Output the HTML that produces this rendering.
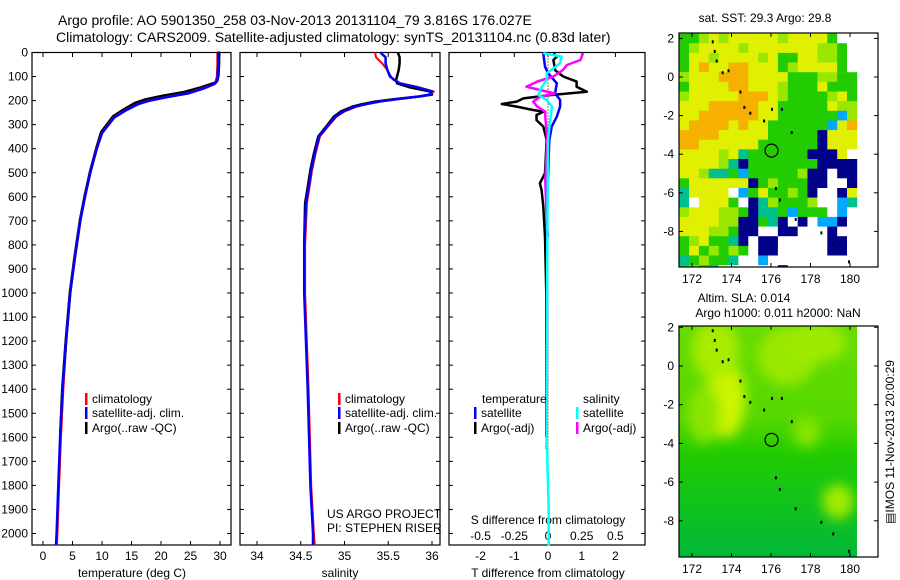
<!DOCTYPE html>
<html><head><meta charset="utf-8"><style>
html,body{margin:0;padding:0;background:#fff;}
svg{display:block;font-family:"Liberation Sans",sans-serif;}
text{font-size:12px;fill:#000;}
</style></head><body>
<svg id="c" width="900" height="580" viewBox="0 0 900 580">
<text x="58" y="25" style="font-size:14px">Argo profile: AO 5901350_258 03-Nov-2013 20131104_79 3.816S 176.027E</text>
<text x="56" y="42" style="font-size:14px">Climatology: CARS2009. Satellite-adjusted climatology: synTS_20131104.nc (0.83d later)</text>
<g id="g"></g>
</svg>
<script>
// ---------- data ----------
const depthTicks=[0,100,200,300,400,500,600,700,800,900,1000,1100,1200,1300,1400,1500,1600,1700,1800,1900,2000];
const tempTicks=[0,5,10,15,20,25,30];
const salTicks=[34,34.5,35,35.5,36];
const tdTicks=[-2,-1,0,1,2];
const sdTicks=[-0.5,-0.25,0,0.25,0.5];
const sdTickLabels=["-0.5","-0.25","0","0.25","0.5"];
const latTicks=[2,0,-2,-4,-6,-8];
const lonTicks=[172,174,176,178,180];

const tDepth=[0,50,100,120,130,150,170,185,200,215,240,270,335,400,500,600,700,850,1000,1200,1400,1600,1800,2000,2050];
const tClim=[29.6,29.6,29.5,29.3,29,27,24.5,21,18,16,14,12,10,9.1,8,7.1,6.3,5.4,4.6,3.9,3.4,3.0,2.7,2.4,2.3];
const tSat=[29.7,29.7,29.6,29.4,29.1,27.2,24.6,21.1,18.1,16.1,14.1,12.1,10,9.1,8,7.1,6.3,5.4,4.6,3.9,3.3,2.9,2.6,2.3,2.2];
const tArgo=[29.8,29.8,29.7,29.5,29.2,26.8,23.8,20.3,17.4,15.6,13.8,11.9,9.9,9.1,8,7.1,6.3,5.4,4.6,3.9,3.3,2.95];
const sDepth=[0,20,45,73,100,114,128,145,162,175,183,195,204,215,225,245,266,308,349,420,488,560,627,800,1000,1400,1800,2000,2050];
const sClim=[35.35,35.36,35.43,35.49,35.53,35.56,35.64,35.85,36.02,35.98,35.87,35.6,35.41,35.26,35.14,35.0,34.91,34.81,34.72,34.67,34.63,34.6,34.57,34.55,34.55,34.59,34.62,34.65,34.66];
const sSat=[35.41,35.47,35.47,35.49,35.52,35.57,35.63,35.84,36.0,35.97,35.85,35.58,35.39,35.24,35.12,34.99,34.9,34.8,34.71,34.66,34.62,34.59,34.56,34.54,34.54,34.58,34.61,34.64,34.64];
const sArgo=[35.61,35.63,35.63,35.62,35.6,35.59,35.6,35.75,35.98,36.0,35.85,35.55,35.35,35.2,35.09,34.96,34.88,34.79,34.7,34.65,34.61,34.58,34.55,34.54];
const dtDepth=[3,17,31,73,100,121,142,163,177,191,204,214,225,239,246,260,281,308,364,502,544,572,641,766,1000,1600];
const dtArgo=[0.16,0.26,0.16,0.21,0.45,0.85,0.85,1.15,0.06,-0.73,-0.93,-1.37,-0.93,-0.44,-0.14,-0.34,-0.34,-0.14,-0.04,-0.09,-0.24,-0.19,-0.14,-0.09,-0.05,-0.05];
const dtSatDepth=[3,59,87,128,170,197,225,267,308,364,600,1000,1650];
const dtSat=[-0.14,-0.09,0.01,0.26,0.21,0.36,0.36,0.26,0.11,0.04,-0.02,-0.03,-0.04];
const dsArgoDepth=[3,31,52,73,100,121,142,156,170,184,204,225,246,267,364,530,710,766];
const dsArgo=[0.26,0.24,0.14,0.11,0.04,-0.08,-0.16,-0.06,0.05,-0.06,-0.11,-0.08,-0.02,-0.02,-0.005,-0.02,-0.01,0.0];
const dsSatDepth=[3,17,45,87,114,156,177,197,225,267,364,800,1400,1600,1900,2050];
const dsSat=[-0.035,0.10,0.09,-0.01,-0.01,-0.06,-0.07,-0.01,0.03,0.02,0.0,-0.005,-0.01,-0.01,0.005,0.005];

const sstRows=[
"gglylyyyyylyyyygww","glyyyylyyyyyyyllgw","gyylyyyylyggyyllgw","gyoyyooyyyglyyyygw",
"lyyyoooyyyygggllgg","gyyyyooyyylgggyggg","lyyyyyoooylgggglyg","yyyoooooyygggggyll",
"yyooooooyyggggggsl","yooooyoyyggggggsyo","ooooyyyyygggggbyyy","ooyyyyyyggggggbyyy",
"yyyylycggggggbbbyw","yyyylcbgggggggbbbb","yylccgsggggglbbwbb","gyyyyyybglgggbbwwb",
"cyyyywsgygglgbwwby","cwyyygwbclggglwwsc","lyyyllgbccgsgggwsw","yyyyllbbgcbwbwssbw",
"yyyllgbbwwbbwwwbww","glyggcbwbbwwwwwbbw","gyglglgwbbwwwwwbbw","cglggcwwswwwwwwwww","glgcwwwwwwbwwwwwww"];
const slaPatches=[[173.7,-1.7,1.0,2.0,"#ccf400"],[173.2,0.8,1.2,1.5,"#a8ec00"],[176.8,0.5,1.5,1.5,"#98e800"],[178.3,1.2,1.5,1.0,"#a0ea00"],[177.8,-3.4,0.7,0.8,"#88e400"],[179.4,-7.0,0.8,0.9,"#a0ea00"],[172.6,-2.5,0.8,1.5,"#8ae400"]];
const argoLon=176.027, argoLat=-3.816;
const coast=[[173,1.9],[173.1,1.4],[173.2,0.9],[173.5,0.3],[173.8,0.4],[174.4,-0.7],[174.6,-1.5],[174.9,-1.8],[175.6,-2.2],[176.0,-1.6],[176.5,-1.6],[177.0,-2.8],[176.2,-5.7],[176.4,-6.3],[177.2,-7.3],[178.5,-8.0],[179.1,-8.6],[179.9,-9.5]];

// ---------- scales ----------
const y=d=>52.5+d*0.2405;
const tX=t=>43+t*5.9, sX=s=>257+(s-34)*87.5, tdX=v=>548+v*33.7, sdX=v=>548+v*134.8;
const lonX=l=>692+(l-172)*19.75, latY1=l=>77-l*19.3, latY2=l=>366-l*19.35;
const NS="http://www.w3.org/2000/svg", G=document.getElementById('g');
function el(tag,attrs,txt){const e=document.createElementNS(NS,tag);for(const k in attrs)e.setAttribute(k,attrs[k]);if(txt!==undefined)e.textContent=txt;G.appendChild(e);return e;}
function line(xs,ds,fx,col,w,name){const p=xs.map((v,i)=>fx(v).toFixed(1)+","+y(ds[i]).toFixed(1)).join(" ");const e=el('polyline',{points:p,fill:'none',stroke:col,'stroke-width':w,'stroke-linejoin':'round'});

}
function txt(x,yy,s,anchor,name,extra){const e=el('text',Object.assign({x:x,y:yy,'text-anchor':anchor||'start'},extra||{}),s);

return e;}

// ---------- profile panels ----------
const panels=[[32,231,'temperature-panel'],[240,440,'salinity-panel'],[449,645,'difference-panel']];
panels.forEach(([x0,x1,nm])=>{
  const r=el('rect',{x:x0,y:52.5,width:x1-x0,height:545-52.5,fill:'none',stroke:'#000','stroke-width':1.2});
  
  
  depthTicks.forEach(d=>{el('line',{x1:x0,x2:x0+4,y1:y(d),y2:y(d),stroke:'#000'});el('line',{x1:x1-4,x2:x1,y1:y(d),y2:y(d),stroke:'#000'});});
});
depthTicks.forEach(d=>txt(28,y(d)+4,String(d),'end','depth-tick-label'));
tempTicks.forEach(t=>{el('line',{x1:tX(t),x2:tX(t),y1:52.5,y2:57,stroke:'#000'});el('line',{x1:tX(t),x2:tX(t),y1:541,y2:545,stroke:'#000'});txt(tX(t),560,String(t),'middle','temperature-tick-label');});
salTicks.forEach(s=>{el('line',{x1:sX(s),x2:sX(s),y1:52.5,y2:57,stroke:'#000'});el('line',{x1:sX(s),x2:sX(s),y1:541,y2:545,stroke:'#000'});txt(sX(s),560,String(s),'middle','salinity-tick-label');});
tdTicks.forEach(t=>{el('line',{x1:tdX(t),x2:tdX(t),y1:52.5,y2:57,stroke:'#000'});txt(tdX(t),560,String(t),'middle','t-diff-tick-label');});
sdTicks.forEach((s,i)=>txt(sdX(s),540,sdTickLabels[i],'middle','s-diff-tick-label'));
txt(132,577,'temperature (deg C)','middle','x-axis-title-temperature');
txt(340,577,'salinity','middle','x-axis-title-salinity');
txt(548,577,'T difference from climatology','middle','x-axis-title-t-diff');
txt(548,524,'S difference from climatology','middle','s-diff-axis-title');
// zero dotted line
const z=el('line',{x1:548,x2:548,y1:52.5,y2:545,stroke:'#000','stroke-dasharray':'1,2'});



line(tArgo,tDepth.slice(0,tArgo.length).map(d=>d-4),tX,'#000',3,'temp-argo-line');
line(tClim,tDepth,tX,'#f00',2.5,'temp-climatology-line');
line(tSat,tDepth,tX,'#00f',2.5,'temp-satellite-line');
line(sArgo,sDepth.slice(0,sArgo.length),sX,'#000',2.5,'sal-argo-line');
line(sClim,sDepth,sX,'#f00',2,'sal-climatology-line');
line(sSat,sDepth,sX,'#00f',2.5,'sal-satellite-line');
line(dtArgo,dtArgoDepth_fix(),tdX,'#000',2.5,'tdiff-argo-line');
function dtArgoDepth_fix(){return dtDepth;}
line(dtSat,dtSatDepth,tdX,'#00f',2.5,'tdiff-satellite-line');
line(dsArgo,dsArgoDepth,sdX,'#f0f',2.5,'sdiff-argo-line');
line(dsSat,dsSatDepth,sdX,'#0ff',2.5,'sdiff-satellite-line');

// legends
function leg(x,yy,col,label,name){const b=el('rect',{x:x,y:yy-10,width:2.5,height:12,fill:col});


txt(x+7,yy,label,'start',name);}
leg(85,403,'#f00','climatology','legend-climatology');
leg(85,417,'#00f','satellite-adj. clim.','legend-satellite');
leg(85,432,'#000','Argo(..raw -QC)','legend-argo');
leg(338,403,'#f00','climatology','legend-sal-climatology');
leg(338,417,'#00f','satellite-adj. clim.','legend-sal-satellite');
leg(338,432,'#000','Argo(..raw -QC)','legend-sal-argo');
txt(482,403,'temperature','start','legend-header-temperature');
txt(583,403,'salinity','start','legend-header-salinity');
leg(474,417,'#00f','satellite','legend-t-satellite');
leg(474,432,'#000','Argo(-adj)','legend-t-argo');
leg(576,417,'#0ff','satellite','legend-s-satellite');
leg(576,432,'#f0f','Argo(-adj)','legend-s-argo');
txt(327,518,'US ARGO PROJECT','start','project-label');
txt(327,532,'PI: STEPHEN RISER','start','pi-label');

// ---------- maps ----------
const colors={g:'#22cc00',l:'#99e600',y:'#e0f000',o:'#f5b000',c:'#00c090',b:'#000088',s:'#00a8ff',w:'#ffffff'};
sstRows.forEach((row,i)=>{for(let j=0;j<row.length;j++){const lat=2.25-i*0.5,lon=171.35+j*0.5;
  const x0=lonX(lon),x1=lonX(lon+0.5),y0=Math.max(33,latY1(lat)),y1=Math.min(267,latY1(lat-0.5));
  if(y1<=y0)continue;
  const r=el('rect',{x:x0.toFixed(1),y:y0.toFixed(1),width:(x1-x0+0.3).toFixed(1),height:(y1-y0+0.3).toFixed(1),fill:colors[row[j]]});
  
  }});
// SLA map
const defs=el('defs',{});
defs.innerHTML='<linearGradient id="slag" x1="0" y1="0" x2="0" y2="1"><stop offset="0" stop-color="#66dc00"/><stop offset="0.4" stop-color="#55d800"/><stop offset="0.55" stop-color="#22cc00"/><stop offset="1" stop-color="#00b838"/></linearGradient><filter id="bl"><feGaussianBlur stdDeviation="6"/></filter><clipPath id="cp2"><rect x="679" y="326" width="178" height="231"/></clipPath>';
const base=el('rect',{x:679,y:326,width:178,height:231,fill:'url(#slag)'});


const pg=el('g',{'clip-path':'url(#cp2)',filter:'url(#bl)'});
slaPatches.forEach(p=>{const e=document.createElementNS(NS,'ellipse');e.setAttribute('cx',lonX(p[0]));e.setAttribute('cy',latY2(p[1]));e.setAttribute('rx',p[2]*19.75);e.setAttribute('ry',p[3]*19.35);e.setAttribute('fill',p[4]);


pg.appendChild(e);});
[[latY1,33,267,'sst-map'],[latY2,326,557,'sla-map']].forEach(([ly,t,b,nm])=>{
  const r=el('rect',{x:679,y:t,width:199,height:b-t,fill:'none',stroke:'#000','stroke-width':1.2});
  
  
  latTicks.forEach(l=>{el('line',{x1:679,x2:683,y1:ly(l),y2:ly(l),stroke:'#000'});el('line',{x1:874,x2:878,y1:ly(l),y2:ly(l),stroke:'#000'});txt(674,ly(l)+4,String(l),'end',nm+'-lat-label');});
  lonTicks.forEach(l=>{el('line',{x1:lonX(l),x2:lonX(l),y1:t,y2:t+4,stroke:'#000'});el('line',{x1:lonX(l),x2:lonX(l),y1:b-4,y2:b,stroke:'#000'});txt(lonX(l),b+16,String(l),'middle',nm+'-lon-label');});
  coast.forEach(c=>{if(ly(c[1])>t&&ly(c[1])<b)el('rect',{x:lonX(c[0]),y:ly(c[1]),width:2,height:3,fill:'#000'});});
  const cc=el('circle',{cx:lonX(argoLon),cy:ly(argoLat),r:6.5,fill:'none',stroke:'#000','stroke-width':1.2});
  
  
});
txt(765,22,'sat. SST: 29.3 Argo: 29.8','middle','sst-map-title');
txt(744,302,'Altim. SLA: 0.014','middle','sla-map-title');
txt(778,317,'Argo h1000: 0.011 h2000: NaN','middle','sla-map-subtitle');
txt(0,0,'\u25A4IMOS 11-Nov-2013 20:00:29','middle','imos-timestamp',{transform:'translate(894,442) rotate(-90)'});
</script>
</body></html>
